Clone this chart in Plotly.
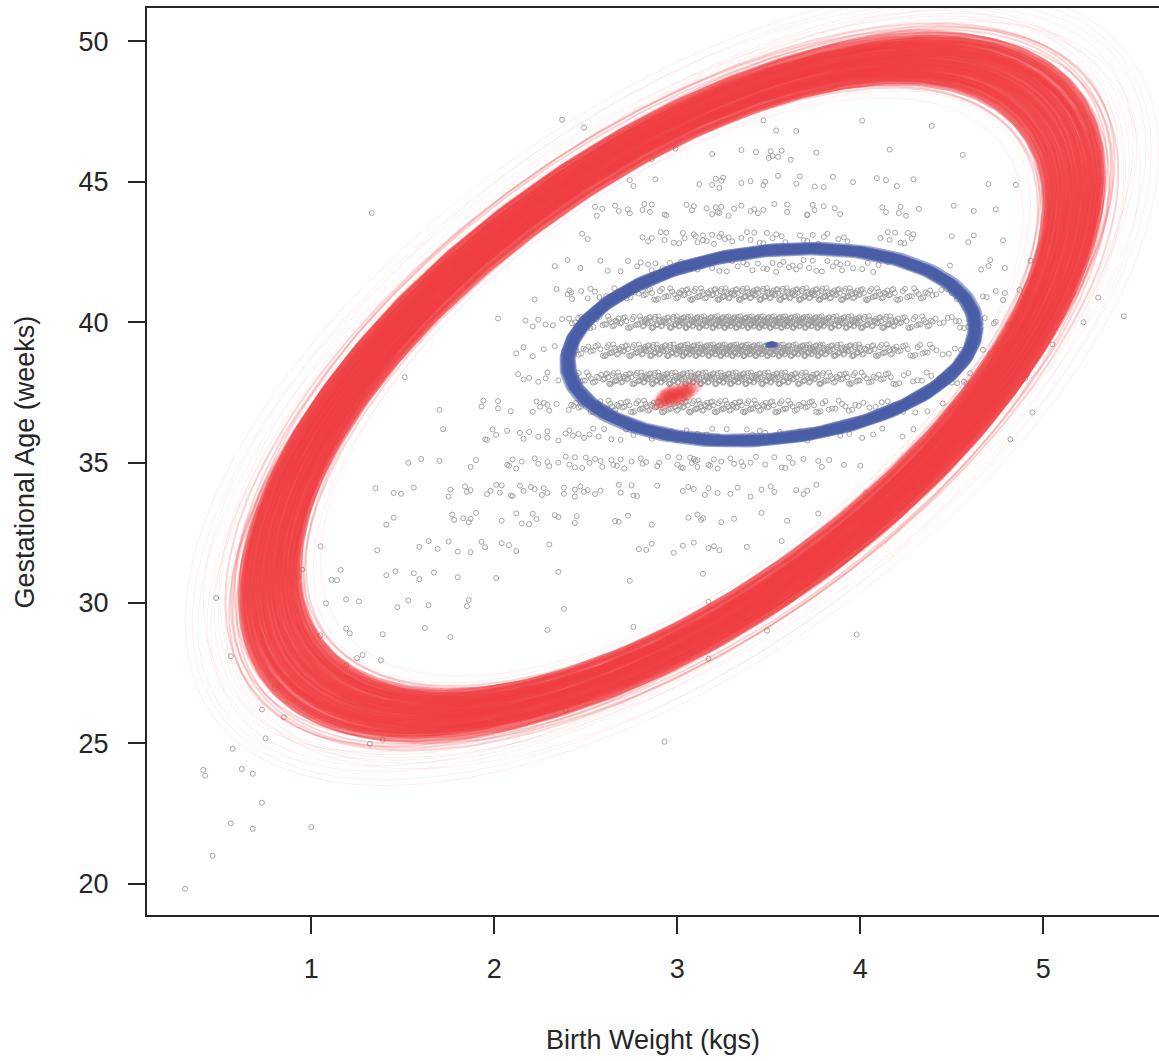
import numpy as np
import plotly.graph_objects as go

# ---------------- data ----------------
# Sparse gestational-age rows: birth weights (kg) of the babies in each week
bw_wk20 = [0.31]
bw_wk21 = [0.46]
bw_wk22 = [0.56, 0.68, 1.00]
bw_wk23 = [0.73]
bw_wk24 = [0.41, 0.42, 0.62, 0.68]
bw_wk25 = [0.57, 0.75, 1.32, 1.39, 2.93]
bw_wk26 = [0.73, 0.85, 2.39]
bw_wk27 = [0.80, 0.83]
bw_wk28 = [0.56, 1.19, 1.25, 1.28, 1.38, 3.17]
bw_wk29 = [1.05, 1.19, 1.21, 1.39, 1.62, 1.76, 2.29, 2.76, 2.93, 3.49, 3.98]
bw_wk30 = [0.48, 1.08, 1.19, 1.26, 1.47, 1.53, 1.64, 1.85, 1.86, 2.38, 3.17, 3.63]
bw_wk31 = [0.93, 0.95, 1.11, 1.14, 1.16, 1.41, 1.46, 1.56, 1.59, 1.67, 1.80, 2.01,
           2.35, 2.74, 3.14]
bw_wk32 = [1.05, 1.36, 1.59, 1.64, 1.69, 1.75, 1.80, 1.87, 1.93, 1.95, 2.04, 2.08,
           2.12, 2.30, 2.79, 2.83, 2.86, 2.98, 3.03, 3.09, 3.17, 3.20, 3.23, 3.38, 3.57]
bw_wk33 = [1.41, 1.45, 1.77, 1.78, 1.83, 1.86, 1.87, 1.90, 2.04, 2.12, 2.15, 2.19,
           2.21, 2.23, 2.33, 2.35, 2.44, 2.45, 2.66, 2.68, 2.73, 2.86, 3.06, 3.11,
           3.13, 3.14, 3.24, 3.31, 3.46, 3.60, 3.77]
bw_wk34 = [1.35, 1.45, 1.49, 1.56, 1.75, 1.76, 1.84, 1.85, 1.87, 1.96, 1.98, 2.01,
           2.03, 2.04, 2.09, 2.10, 2.14, 2.16, 2.20, 2.22, 2.26, 2.27, 2.29, 2.38,
           2.38, 2.44, 2.44, 2.47, 2.49, 2.51, 2.55, 2.58, 2.68, 2.69, 2.75, 2.76,
           2.78, 2.89, 3.03, 3.06, 3.09, 3.15, 3.17, 3.22, 3.29, 3.33, 3.40, 3.46,
           3.51, 3.53, 3.65, 3.69, 3.71, 3.76, 4.03]
bw_wk35 = [1.53, 1.60, 1.70, 1.87, 1.90, 2.07, 2.08, 2.10, 2.12, 2.15, 2.22, 2.24,
           2.29, 2.30, 2.35, 2.39, 2.41, 2.44, 2.44, 2.48, 2.50, 2.52, 2.55, 2.58,
           2.59, 2.64, 2.65, 2.67, 2.69, 2.71, 2.75, 2.80, 2.81, 2.83, 2.89, 2.90,
           2.95, 3.00, 3.01, 3.02, 3.03, 3.07, 3.08, 3.09, 3.10, 3.11, 3.11, 3.17,
           3.18, 3.20, 3.22, 3.24, 3.29, 3.31, 3.35, 3.36, 3.40, 3.43, 3.48, 3.53,
           3.57, 3.59, 3.61, 3.63, 3.69, 3.77, 3.79, 3.83, 3.91, 4.00]
bw_wk36 = [1.72, 1.95, 1.96, 1.99, 2.01, 2.07, 2.14, 2.16, 2.19, 2.24, 2.29, 2.29,
           2.35, 2.39, 2.41, 2.43, 2.46, 2.49, 2.52, 2.54, 2.57, 2.60, 2.64, 2.69,
           2.72, 2.76, 2.80, 2.83, 2.86, 2.89, 2.92, 2.94, 2.97, 3.00, 3.02, 3.05,
           3.08, 3.11, 3.13, 3.16, 3.19, 3.22, 3.27, 3.30, 3.34, 3.38, 3.41, 3.45,
           3.48, 3.52, 3.56, 3.60, 3.63, 3.67, 3.71, 3.76, 3.83, 3.89, 3.94, 4.01,
           4.07, 4.12, 4.23, 4.29, 4.82]
bw_wk42 = [2.33, 2.40, 2.47, 2.58, 2.62, 2.69, 2.73, 2.78, 2.80, 2.84, 2.86, 2.88,
           2.92, 2.94, 2.96, 2.98, 3.00, 3.02, 3.05, 3.08, 3.11, 3.13, 3.16, 3.19,
           3.21, 3.23, 3.27, 3.30, 3.33, 3.36, 3.38, 3.41, 3.44, 3.47, 3.49, 3.52,
           3.54, 3.56, 3.58, 3.61, 3.63, 3.65, 3.67, 3.69, 3.72, 3.74, 3.76, 3.79,
           3.82, 3.85, 3.87, 3.89, 3.90, 3.93, 3.96, 4.01, 4.04, 4.07, 4.10, 4.15,
           4.26, 4.49, 4.66, 4.70, 4.71, 4.79, 4.93]
bw_wk43 = [2.48, 2.51, 2.81, 2.84, 2.86, 2.91, 2.93, 2.94, 2.98, 3.01, 3.03, 3.04,
           3.09, 3.10, 3.11, 3.14, 3.14, 3.16, 3.19, 3.20, 3.23, 3.24, 3.26, 3.28,
           3.30, 3.35, 3.38, 3.40, 3.42, 3.45, 3.47, 3.49, 3.52, 3.54, 3.57, 3.59,
           3.67, 3.69, 3.71, 3.74, 3.77, 3.80, 3.82, 3.88, 3.91, 3.93, 4.11, 4.15,
           4.16, 4.19, 4.22, 4.24, 4.26, 4.28, 4.29, 4.50, 4.59, 4.62, 4.78]
bw_wk44 = [1.33, 2.55, 2.56, 2.59, 2.66, 2.68, 2.73, 2.74, 2.81, 2.82, 2.85, 2.86,
           2.93, 2.94, 3.05, 3.08, 3.09, 3.16, 3.19, 3.21, 3.22, 3.23, 3.24, 3.28,
           3.31, 3.35, 3.40, 3.42, 3.44, 3.47, 3.53, 3.60, 3.60, 3.71, 3.71, 3.74,
           3.75, 3.80, 3.86, 3.89, 4.12, 4.14, 4.21, 4.22, 4.25, 4.32, 4.51, 4.62, 4.74]
bw_wk45 = [2.74, 2.76, 2.88, 3.12, 3.19, 3.21, 3.23, 3.24, 3.25, 3.35, 3.40, 3.47,
           3.48, 3.55, 3.65, 3.67, 3.75, 3.80, 3.85, 3.96, 4.09, 4.14, 4.20, 4.29,
           4.70, 4.85]
bw_wk46 = [2.86, 2.99, 3.19, 3.35, 3.43, 3.50, 3.51, 3.52, 3.55, 3.57, 3.62, 3.76,
           4.16, 4.56]
bw_wk47 = [2.37, 2.49, 3.47, 3.54, 3.65, 4.01, 4.39]

# Dense rows (weeks 37-41): number of babies per 0.2 kg birth-weight bin
dense_bin_centers = [2.5, 2.7, 2.9, 3.1, 3.3, 3.5, 3.7, 3.9, 4.1, 4.3, 4.5]
count_wk37 = [15, 21, 27, 30, 27, 23, 17, 11, 6, 3, 2]
count_wk38 = [18, 33, 45, 51, 51, 45, 36, 24, 15, 8, 3]
count_wk39 = [15, 30, 45, 60, 66, 66, 57, 42, 27, 15, 6]
count_wk40 = [12, 24, 42, 57, 66, 69, 63, 51, 36, 21, 9]
count_wk41 = [4, 9, 18, 27, 36, 39, 39, 33, 25, 16, 7]
# babies outside the dense core of those rows
bw_wk37_tail = [1.70, 1.93, 1.94, 2.02, 2.02, 2.09, 2.21, 2.23, 2.25, 2.27, 2.29,
                2.30, 2.34, 4.50, 4.51, 4.77, 4.94]
bw_wk38_tail = [1.51, 2.13, 2.16, 2.19, 2.24, 2.28, 2.29, 2.35, 2.41, 4.53, 4.58,
                4.60, 4.90, 4.91]
bw_wk39_tail = [1.30, 2.12, 2.16, 2.21, 2.27, 2.33, 2.38, 4.67, 4.71, 4.74, 5.05]
bw_wk40_tail = [2.02, 2.17, 2.21, 2.24, 2.28, 2.32, 2.37, 2.45, 4.54, 4.68, 4.73,
                4.74, 4.81, 5.22, 5.44]
bw_wk41_tail = [1.50, 2.22, 2.34, 2.40, 2.41, 2.42, 2.51, 2.55, 4.67, 4.69, 4.74,
                4.78, 4.79, 4.87, 4.90, 5.16, 5.30]

# vertical jitter applied to the integer weeks (as in the plotted points)
jitter_offsets = [0.00, 0.15, -0.11, 0.06, -0.19, 0.21, -0.04, 0.11, -0.15, 0.18,
                  -0.07, 0.02, -0.21, 0.09, -0.01, 0.19, -0.12, 0.04, -0.08, 0.13, -0.17]

# Posterior draws of the population ellipse (red): centre, half-widths, correlation
red_center = (2.97, 37.70)
red_core_halfwidth = [2.040, 2.050, 2.058, 2.066, 2.074, 2.082, 2.090, 2.098, 2.106, 2.114,
                      2.122, 2.130, 2.138, 2.146, 2.154, 2.162, 2.170, 2.178, 2.186, 2.194,
                      2.202, 2.210, 2.218, 2.226, 2.234, 2.242, 2.250, 2.258, 2.266, 2.274,
                      2.282, 2.290, 2.298, 2.306, 2.314, 2.322, 2.330, 2.338, 2.346, 2.354]
red_core_halfheight = [10.85, 11.02, 10.92, 11.10, 11.00, 11.18, 11.08, 11.25, 11.15, 11.32,
                       11.22, 11.40, 11.30, 11.48, 11.38, 11.55, 11.46, 11.62, 11.54, 11.70,
                       11.62, 11.78, 11.70, 11.86, 11.78, 11.94, 11.86, 12.02, 11.94, 12.10,
                       12.02, 12.18, 12.10, 12.26, 12.18, 12.34, 12.26, 12.42, 12.36, 12.54]
red_core_rho = [0.60, 0.58, 0.62, 0.59, 0.61, 0.60, 0.63, 0.58, 0.60, 0.62,
                0.59, 0.61, 0.60, 0.58, 0.62, 0.60, 0.61, 0.59, 0.63, 0.60,
                0.58, 0.61, 0.60, 0.62, 0.59, 0.61, 0.60, 0.58, 0.62, 0.60,
                0.61, 0.59, 0.60, 0.62, 0.58, 0.61, 0.60, 0.59, 0.62, 0.60]
red_near_halfwidth = [2.00, 2.01, 2.02, 2.03, 2.37, 2.38, 2.39, 2.40, 2.42, 2.44, 2.36, 2.41]
red_near_halfheight = [10.65, 10.80, 10.72, 10.90, 12.60, 12.72, 12.65, 12.85, 12.80, 12.95,
                       12.70, 12.50]
red_near_rho = [0.60, 0.62, 0.58, 0.61, 0.60, 0.62, 0.58, 0.61, 0.63, 0.59, 0.57, 0.62]
red_far_halfwidth = [1.92, 1.96, 2.06, 2.44, 2.47, 2.50, 2.52, 2.56, 2.59, 2.62, 2.48, 2.54, 2.40, 2.66]
red_far_halfheight = [10.30, 10.55, 12.00, 13.10, 12.90, 13.30, 13.50, 13.20, 13.70, 14.00,
                      13.60, 13.00, 13.40, 14.20]
red_far_rho = [0.60, 0.62, 0.56, 0.63, 0.59, 0.61, 0.64, 0.58, 0.62, 0.60, 0.57, 0.65, 0.61, 0.59]
red_mean_x = [2.89, 2.91, 2.92, 2.93, 2.94, 2.95, 2.95, 2.96, 2.97, 2.97, 2.98, 2.98,
              2.99, 3.00, 3.00, 3.01, 3.02, 3.02, 3.03, 3.04, 3.05, 3.06, 3.07, 3.08,
              3.10, 2.96, 3.01, 2.93, 3.05, 2.99, 2.94, 3.03, 2.98, 3.04, 2.91,
              2.95, 3.02, 2.97, 3.06, 2.92]
red_mean_y = [37.10, 37.18, 37.25, 37.15, 37.30, 37.22, 37.38, 37.32, 37.42, 37.28,
              37.36, 37.50, 37.44, 37.40, 37.55, 37.47, 37.52, 37.38, 37.58, 37.50,
              37.62, 37.55, 37.68, 37.60, 37.72, 37.50, 37.33, 37.35, 37.45, 37.25,
              37.42, 37.64, 37.58, 37.40, 37.08, 37.48, 37.30, 37.20, 37.45, 37.36]

# Posterior draws of the group ellipse (blue)
blue_center = (3.515, 39.20)
blue_core_halfwidth = [1.095, 1.100, 1.105, 1.108, 1.112, 1.115, 1.118, 1.122, 1.126, 1.130, 1.135]
blue_core_halfheight = [3.34, 3.40, 3.37, 3.44, 3.41, 3.43, 3.46, 3.42, 3.48, 3.45, 3.51]
blue_core_rho = [0.18, 0.17, 0.19, 0.18, 0.20, 0.17, 0.18, 0.19, 0.17, 0.18, 0.19]
blue_tail_halfwidth = [1.075, 1.082, 1.148, 1.158]
blue_tail_halfheight = [3.26, 3.30, 3.56, 3.60]
blue_tail_rho = [0.18, 0.20, 0.17, 0.19]
blue_mean_x = [3.50, 3.51, 3.52, 3.53, 3.515, 3.495, 3.535, 3.52]
blue_mean_y = [39.18, 39.22, 39.20, 39.21, 39.19, 39.20, 39.20, 39.23]

x_ticks = [1, 2, 3, 4, 5]
y_ticks = [20, 25, 30, 35, 40, 45, 50]

# ---------------- build point cloud ----------------
sparse_rows = {20: bw_wk20, 21: bw_wk21, 22: bw_wk22, 23: bw_wk23, 24: bw_wk24,
               25: bw_wk25, 26: bw_wk26, 27: bw_wk27, 28: bw_wk28, 29: bw_wk29,
               30: bw_wk30, 31: bw_wk31, 32: bw_wk32, 33: bw_wk33, 34: bw_wk34,
               35: bw_wk35, 36: bw_wk36, 37: bw_wk37_tail, 38: bw_wk38_tail,
               39: bw_wk39_tail, 40: bw_wk40_tail, 41: bw_wk41_tail, 42: bw_wk42,
               43: bw_wk43, 44: bw_wk44, 45: bw_wk45, 46: bw_wk46, 47: bw_wk47}
dense_rows = {37: count_wk37, 38: count_wk38, 39: count_wk39, 40: count_wk40, 41: count_wk41}

pts_x, pts_y = [], []
nj = len(jitter_offsets)
for wk, vals in sparse_rows.items():
    for i, v in enumerate(vals):
        pts_x.append(v)
        pts_y.append(wk + jitter_offsets[(i * 5 + wk) % nj])
for wk, counts in dense_rows.items():
    k = 0
    for c, n in zip(dense_bin_centers, counts):
        for i in range(n):
            pts_x.append(c - 0.1 + 0.2 * (i + 0.5) / n)
            pts_y.append(wk + jitter_offsets[(k * 8 + wk) % nj])
            k += 1

t = np.linspace(0, 2 * np.pi, 301)


def ellipse(center, a, b, rho):
    mx, my = center
    x = mx + a * np.cos(t)
    y = my + b * (rho * np.cos(t) + np.sqrt(1 - rho ** 2) * np.sin(t))
    return x, y


fig = go.Figure()

fig.add_trace(go.Scatter(
    x=pts_x, y=pts_y, mode="markers",
    marker=dict(symbol="circle-open", size=5, color="rgb(155,155,155)",
                line=dict(width=0.9, color="rgb(155,155,155)")),
    hoverinfo="skip"))


def add_ellipses(center, widths, heights, rhos, color, lw):
    for a, b, r in zip(widths, heights, rhos):
        ex, ey = ellipse(center, a, b, r)
        fig.add_trace(go.Scatter(x=ex, y=ey, mode="lines",
                                 line=dict(color=color, width=lw),
                                 hoverinfo="skip"))


add_ellipses(red_center, red_far_halfwidth, red_far_halfheight, red_far_rho,
             "rgba(239,62,66,0.09)", 1.0)
add_ellipses(red_center, red_near_halfwidth, red_near_halfheight, red_near_rho,
             "rgba(239,62,66,0.22)", 2.0)
add_ellipses(red_center, red_core_halfwidth, red_core_halfheight, red_core_rho,
             "rgba(239,62,66,0.5)", 6.5)

fig.add_trace(go.Scatter(x=red_mean_x, y=red_mean_y, mode="markers",
                         marker=dict(size=13, color="rgba(239,62,66,0.22)", line=dict(width=0)),
                         hoverinfo="skip"))

add_ellipses(blue_center, blue_tail_halfwidth, blue_tail_halfheight, blue_tail_rho,
             "rgba(74,94,168,0.14)", 2.0)
add_ellipses(blue_center, blue_core_halfwidth, blue_core_halfheight, blue_core_rho,
             "rgba(74,94,168,0.5)", 9)

fig.add_trace(go.Scatter(x=blue_mean_x, y=blue_mean_y, mode="markers",
                         marker=dict(size=5.5, color="rgba(74,94,168,0.75)", line=dict(width=0)),
                         hoverinfo="skip"))

axis_color = "#262626"
fig.update_layout(
    width=1159, height=1061,
    margin=dict(l=147, r=0, t=8, b=146, autoexpand=False),
    plot_bgcolor="white", paper_bgcolor="white",
    showlegend=False,
    font=dict(family="Liberation Sans, Arial, Helvetica, sans-serif", size=27, color=axis_color),
    annotations=[
        dict(text="Birth Weight (kgs)", xref="paper", yref="paper", x=0.5, y=-0.1378,
             xanchor="center", yanchor="middle", showarrow=False,
             font=dict(size=27, color=axis_color)),
        dict(text="Gestational Age (weeks)", xref="paper", yref="paper", x=-0.1206, y=0.5,
             xanchor="center", yanchor="middle", textangle=-90, showarrow=False,
             font=dict(size=27, color=axis_color)),
    ],
)
fig.update_xaxes(range=[0.102, 5.632], tickvals=x_ticks, ticktext=[str(v) for v in x_ticks],
                 ticks="outside", ticklen=17, tickwidth=2, tickcolor=axis_color,
                 showline=True, linewidth=2, linecolor=axis_color, mirror=True,
                 showgrid=False, zeroline=False, ticklabelstandoff=12)
fig.update_yaxes(range=[18.89, 51.19], tickvals=y_ticks, ticktext=[str(v) for v in y_ticks],
                 ticks="outside", ticklen=17, tickwidth=2, tickcolor=axis_color,
                 showline=True, linewidth=2, linecolor=axis_color, mirror=False,
                 showgrid=False, zeroline=False, ticklabelstandoff=14)

fig.write_html("out.html")
